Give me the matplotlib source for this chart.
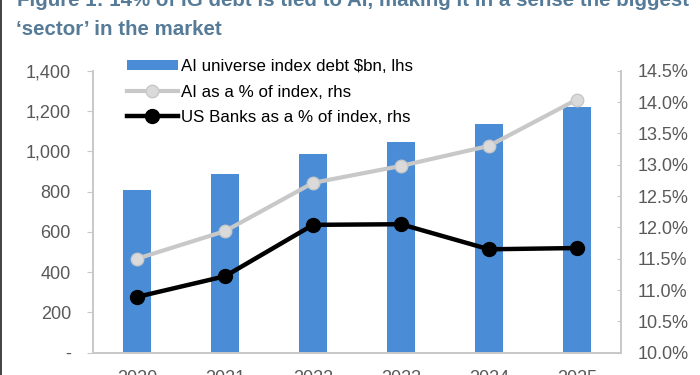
import matplotlib
matplotlib.use("Agg")
import matplotlib.pyplot as plt
from matplotlib.ticker import FuncFormatter
from matplotlib.lines import Line2D

plt.rcParams['font.family'] = ['Liberation Sans', 'DejaVu Sans']

# values
years = ['2020', '2021', '2022', '2023', '2024', '2025']
ai_debt = [807, 885, 986, 1047, 1133, 1220]            # $bn, lhs
ai_share = [11.50, 11.94, 12.71, 12.98, 13.30, 14.04]  # %, rhs
banks_share = [10.89, 11.22, 12.04, 12.05, 11.65, 11.67]  # %, rhs

title_1 = "Figure 1: 14% of IG debt is tied to AI, making it in a sense the biggest"
title_2 = "\u2018sector\u2019 in the market"

bar_col = '#4a8cd6'
grey_line = '#c8c8c8'
spine_col = '#c8c8c8'
tick_txt = '#595959'
title_col = '#557b98'

fig = plt.figure(figsize=(7, 3.75), dpi=100)
ax = fig.add_axes([0.133, 0.0595, 0.754, 0.752])
ax2 = ax.twinx()

x = range(len(years))
bars = ax.bar(x, ai_debt, width=0.31, color=bar_col, label='AI universe index debt $bn, lhs', zorder=2)

l1, = ax2.plot(x, ai_share, color=grey_line, lw=3, marker='o', ms=9,
               mfc='#dadada', mec=grey_line, label='AI as a % of index, rhs')
l2, = ax2.plot(x, banks_share, color='black', lw=3.2, marker='o', ms=10,
               mfc='black', mec='black', label='US Banks as a % of index, rhs')

ax.set_xlim(-0.5, 5.5)
ax.set_ylim(0, 1400)
ax.set_yticks(range(0, 1401, 200))
ax.yaxis.set_major_formatter(FuncFormatter(lambda v, p: '-' if v == 0 else f'{v:,.0f}'))
ax2.set_ylim(10.0, 14.5)
ax2.set_yticks([10 + 0.5 * i for i in range(10)])
ax2.yaxis.set_major_formatter(FuncFormatter(lambda v, p: f'{v:.1f}%'))

ax.set_xticks(list(x))
ax.set_xticklabels(years)

for a in (ax, ax2):
    a.spines['top'].set_visible(False)
    for s in ('left', 'right', 'bottom'):
        a.spines[s].set_color(spine_col)
        a.spines[s].set_linewidth(1.2)

ax.tick_params(axis='y', direction='out', length=4, color=spine_col, pad=12,
               labelsize=13, labelcolor=tick_txt)
ax2.tick_params(axis='y', direction='in', length=3, color=spine_col, pad=12,
                labelsize=13, labelcolor=tick_txt)
ax.tick_params(axis='x', length=0, pad=12.5, labelsize=13, labelcolor=tick_txt)

leg = ax2.legend(handles=[bars, l1, l2], loc='upper left',
                 bbox_to_anchor=(127 / 700, 1 - 59 / 375), bbox_transform=fig.transFigure,
                 frameon=False, fontsize=12.2, borderpad=0, borderaxespad=0,
                 handlelength=3.0, handleheight=0.6, handletextpad=0.2,
                 labelspacing=0.62)
for t in leg.get_texts():
    t.set_color('black')

# title, first line partly cut off at the top as in the screenshot
fig.text(17 / 700, 1 - 6 / 375, title_1, fontsize=14.8, fontweight='bold', color=title_col,
         ha='left', va='baseline')
fig.text(16 / 700, 1 - 35 / 375, title_2, fontsize=14.8, fontweight='bold', color=title_col,
         ha='left', va='baseline')

# left border of the screenshot
fig.add_artist(Line2D([0.001, 0.001], [0, 1], transform=fig.transFigure, color='#222222', lw=1.2))

fig.savefig('out.png', dpi=100)
